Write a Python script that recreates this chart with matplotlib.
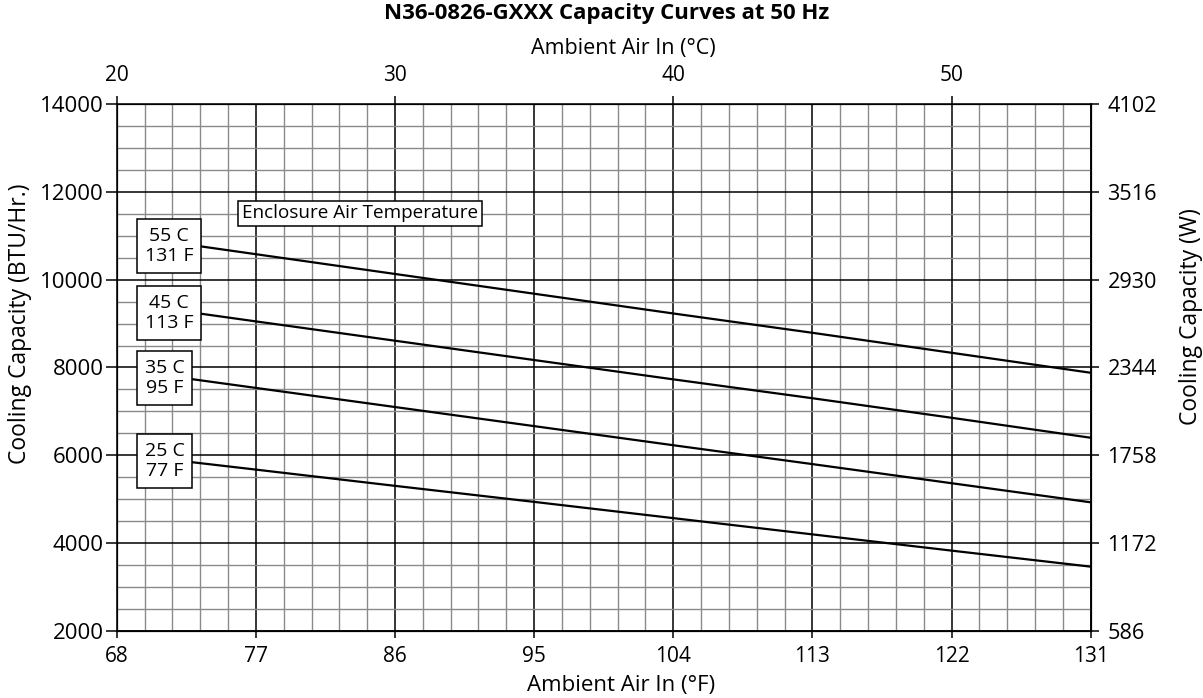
import numpy as np
import matplotlib
matplotlib.use("Agg")
import matplotlib.pyplot as plt
from matplotlib.ticker import FixedLocator, MultipleLocator

plt.rcParams['font.family'] = ['Open Sans', 'DejaVu Sans']

# data (ambient °F vs capacity BTU/Hr)
ambient_f = [71, 77, 86, 95, 104, 113, 122, 131]
cap_55c = [10880, 10580, 10130, 9680, 9230, 8790, 8335, 7880]
cap_45c = [9345, 9050, 8610, 8170, 7730, 7300, 6855, 6400]
cap_35c = [7825, 7535, 7100, 6665, 6230, 5800, 5365, 4930]
cap_25c = [5920, 5675, 5305, 4940, 4570, 4200, 3830, 3465]
series = [cap_55c, cap_45c, cap_35c, cap_25c]
labels = ["55 C\n131 F", "45 C\n113 F", "35 C\n95 F", "25 C\n77 F"]
label_y = [10767, 9248, 7768, 5876]

f_ticks = [68, 77, 86, 95, 104, 113, 122, 131]
btu_ticks = [2000, 4000, 6000, 8000, 10000, 12000, 14000]
watt_labels = ["586", "1172", "1758", "2344", "2930", "3516", "4102"]
celsius_ticks = [20, 30, 40, 50]

fig = plt.figure(figsize=(12.03, 6.98), dpi=100)
ax = fig.add_axes([0.097, 0.096, 0.8097, 0.755])

for s in series:
    ax.plot(ambient_f, s, color='black', lw=1.6, zorder=3)

ax.set_xlim(68, 131)
ax.set_ylim(2000, 14000)
ax.set_xticks(f_ticks)
ax.set_yticks(btu_ticks)
ax.xaxis.set_minor_locator(FixedLocator(68 + 1.8 * np.arange(36)))
ax.yaxis.set_minor_locator(MultipleLocator(500))
ax.grid(which='minor', color='#8a8a8a', lw=1.0, zorder=1)
ax.grid(which='major', color='black', lw=1.1, zorder=2)
ax.set_axisbelow(True)
ax.tick_params(which='minor', length=0)
ax.tick_params(axis='x', which='major', length=5, width=1.1, labelsize=15, pad=6)
ax.tick_params(axis='y', which='major', length=8, width=1.1, labelsize=16, pad=1.5)
for sp in ax.spines.values():
    sp.set_linewidth(1.1)

ax.set_xlabel("Ambient Air In (°F)", fontsize=16)
ax.xaxis.label.set_va('center')
ax.xaxis.set_label_coords(0.518, -0.1035)
ax.set_ylabel("Cooling Capacity (BTU/Hr.)", fontsize=16.5)
ax.yaxis.label.set_va('center')
ax.yaxis.set_label_coords(-0.0993, 0.5825)

# right axis in watts
axr = ax.twinx()
axr.set_ylim(ax.get_ylim())
axr.set_yticks(btu_ticks)
axr.set_yticklabels(watt_labels)
axr.tick_params(length=6, width=1.1, labelsize=15.6, pad=6)
axr.set_ylabel("Cooling Capacity (W)", fontsize=16.5)
axr.yaxis.label.set_va('center')
axr.yaxis.set_label_coords(1.1027, 0.596)

# top axis in celsius
axt = ax.twiny()
axt.set_xlim(ax.get_xlim())
axt.set_xticks([c * 1.8 + 32 for c in celsius_ticks])
axt.set_xticklabels([str(c) for c in celsius_ticks])
axt.tick_params(length=6, width=1.1, labelsize=15, pad=7)
axt.set_xlabel("Ambient Air In (°C)", fontsize=15.5)
axt.xaxis.label.set_va('center')
axt.xaxis.set_label_coords(0.520, 1.106)

fig.text(0.504, 0.98, "N36-0826-GXXX Capacity Curves at 50 Hz", fontsize=16,
         fontweight='bold', ha='center', va='center')

# curve labels
for lab, yy in zip(labels, label_y):
    ax.text(69.8, yy, lab, fontsize=14, ha='left', va='center',
            multialignment='center', linespacing=1.15, zorder=5,
            bbox=dict(boxstyle='square,pad=0.4', fc='white', ec='black', lw=1.1))

ax.text(76.08, 11511, "Enclosure Air Temperature", fontsize=13.6, ha='left',
        va='center', zorder=5,
        bbox=dict(boxstyle='square,pad=0.2', fc='white', ec='black', lw=1.1))

fig.savefig("out.png", dpi=100)
